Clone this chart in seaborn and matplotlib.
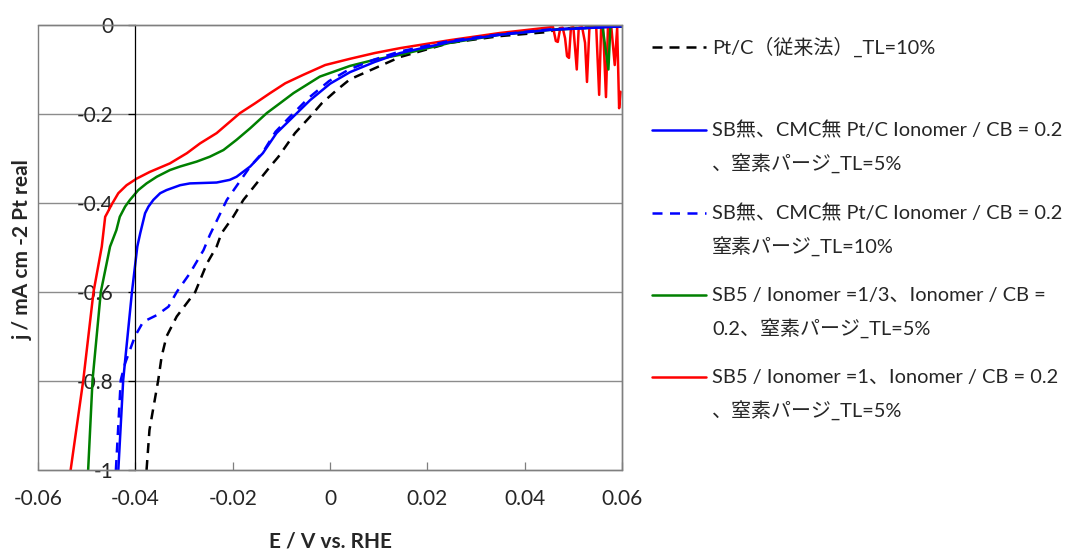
import matplotlib
matplotlib.use("Agg")
import matplotlib.pyplot as plt
from matplotlib.lines import Line2D
from matplotlib.patches import Rectangle
import numpy as np
import pandas as pd
import seaborn as sns

# Data (E in V vs RHE, j in mA cm-2 Pt real)
black_e = [-0.0377, -0.0371, -0.0353, -0.0346, -0.0336, -0.0315, -0.0277, -0.0253, -0.0233,
           -0.0223, -0.0199, -0.0178, -0.0151, -0.0123, -0.0106, -0.0072, -0.0041, -0.0017,
           0.0014, 0.0041, 0.0144, 0.0247, 0.0349, 0.0446, 0.0473, 0.0600]
black_j = [-1.0, -0.910, -0.798, -0.745, -0.700, -0.655, -0.600, -0.536, -0.498,
           -0.468, -0.431, -0.393, -0.356, -0.318, -0.296, -0.243, -0.206, -0.176,
           -0.146, -0.122, -0.072, -0.040, -0.025, -0.016, -0.008, -0.003]

blue_e = [-0.0435, -0.0425, -0.0407, -0.0396, -0.0390, -0.0380, -0.0373, -0.0363, -0.0349,
          -0.0336, -0.0308, -0.0288, -0.0233, -0.0206, -0.0192, -0.0164, -0.0138, -0.0110,
          -0.0082, -0.0041, 0.0000, 0.0041, 0.0092, 0.0144, 0.0247, 0.0349, 0.0452, 0.0600]
blue_j = [-1.0, -0.798, -0.600, -0.498, -0.468, -0.423, -0.408, -0.393, -0.378,
          -0.371, -0.360, -0.356, -0.354, -0.348, -0.341, -0.318, -0.288, -0.243,
          -0.213, -0.169, -0.132, -0.106, -0.083, -0.063, -0.038, -0.022, -0.011, -0.003]

blue_dash_e = [-0.0440, -0.0430, -0.0421, -0.0401, -0.0384, -0.0356, -0.0332, -0.0315,
               -0.0288, -0.0260, -0.0247, -0.0212, -0.0164, -0.0138, -0.0112, -0.0084,
               -0.0043, -0.0002, 0.0039, 0.0090, 0.0142, 0.0245, 0.0349, 0.0452, 0.0600]
blue_dash_j = [-1.0, -0.798, -0.760, -0.700, -0.667, -0.652, -0.633, -0.600,
               -0.558, -0.506, -0.472, -0.393, -0.318, -0.286, -0.240, -0.208,
               -0.163, -0.126, -0.100, -0.078, -0.060, -0.036, -0.021, -0.010, -0.003]

green_e = [-0.0497, -0.0488, -0.0471, -0.0452, -0.0439, -0.0432, -0.0421, -0.0411, -0.0394,
           -0.0377, -0.0356, -0.0329, -0.0308, -0.0274, -0.0247, -0.0219, -0.0192, -0.0164,
           -0.0130, -0.0103, -0.0075, -0.0021, 0.0041, 0.0092, 0.0144, 0.0247, 0.0349,
           0.0452, 0.0560, 0.0572, 0.0576, 0.0580, 0.0600]
green_j = [-1.0, -0.798, -0.600, -0.498, -0.461, -0.431, -0.408, -0.393, -0.371,
           -0.356, -0.341, -0.326, -0.318, -0.307, -0.296, -0.281, -0.258, -0.232,
           -0.198, -0.176, -0.153, -0.116, -0.092, -0.078, -0.067, -0.040, -0.022,
           -0.011, -0.005, -0.100, -0.005, -0.004, -0.004]

red_e = [-0.0533, -0.0507, -0.0486, -0.0469, -0.0462, -0.0458, -0.0449, -0.0435, -0.0418,
         -0.0397, -0.0370, -0.0329, -0.0294, -0.0267, -0.0233, -0.0185, -0.0154, -0.0123,
         -0.0092, -0.0055, -0.0010, 0.0041, 0.0092, 0.0144, 0.0247, 0.0349,
         0.0454, 0.0458, 0.0464, 0.0468, 0.0473, 0.0478, 0.0483, 0.0487, 0.0491, 0.0495,
         0.0500, 0.0507, 0.0511, 0.0518, 0.0524, 0.0528, 0.0533, 0.0540, 0.0547, 0.0553,
         0.0557, 0.0561, 0.0567, 0.0571, 0.0578, 0.0585, 0.0590, 0.0594, 0.0597]
red_j = [-1.0, -0.798, -0.600, -0.498, -0.431, -0.423, -0.404, -0.378, -0.360,
         -0.345, -0.330, -0.311, -0.288, -0.266, -0.243, -0.198, -0.176, -0.153,
         -0.131, -0.112, -0.090, -0.076, -0.063, -0.052, -0.034, -0.018,
         -0.005, -0.004, -0.036, -0.038, -0.007, -0.006, -0.030, -0.070, -0.074, -0.006,
         -0.005, -0.100, -0.006, -0.005, -0.040, -0.128, -0.006, -0.005, -0.006, -0.157,
         -0.006, -0.005, -0.162, -0.006, -0.005, -0.090, -0.006, -0.187, -0.150]

labels = [
    ["Pt/C（従来法）_TL=10%"],
    ["SB無、CMC無 Pt/C Ionomer / CB = 0.2", "、窒素パージ_TL=5%"],
    ["SB無、CMC無 Pt/C Ionomer / CB = 0.2", "窒素パージ_TL=10%"],
    ["SB5 / Ionomer =1/3、Ionomer / CB =", "0.2、窒素パージ_TL=5%"],
    ["SB5 / Ionomer =1、Ionomer / CB = 0.2", "、窒素パージ_TL=5%"],
]

sns.set_theme(style="white")
fonts = ["Lato", "Noto Sans CJK JP", "DejaVu Sans"]
plt.rcParams["font.family"] = fonts

fig = plt.figure(figsize=(10.71, 5.54), dpi=100)
ax = fig.add_axes([0.0355, 0.1516, 0.5453, 0.8033])

lw = 1.8
series = [
    (black_e, black_j, "black", (4, 2.8)),
    (red_e, red_j, "#FF0000", ""),
    (green_e, green_j, "#008000", ""),
    (blue_dash_e, blue_dash_j, "#0000FF", (4, 3)),
    (blue_e, blue_j, "#0000FF", ""),
]
for e, j, c, d in series:
    df = pd.DataFrame({"E": e, "j": j})
    sns.lineplot(data=df, x="E", y="j", ax=ax, color=c, lw=lw,
                 sort=False, estimator=None)
    if d:
        ax.lines[-1].set_dashes(d)

ax.set_xlim(-0.06, 0.06)
ax.set_ylim(-1, 0)
ax.set_xticks(np.arange(-0.06, 0.061, 0.02))
ax.set_xticklabels(["-0.06", "-0.04", "-0.02", "0", "0.02", "0.04", "0.06"])
ax.set_yticks([-1, -0.8, -0.6, -0.4, -0.2, 0])
ax.set_yticklabels(["-1", "-0.8", "-0.6", "-0.4", "-0.2", "0"])

for yv in [-0.2, -0.4, -0.6, -0.8]:
    ax.axhline(yv, color="#8c8c8c", lw=1.0, zorder=0.5)

ax.spines["left"].set_position(("data", -0.04))
ax.spines["left"].set_color("black")
ax.spines["left"].set_linewidth(0.9)
for s in ["top", "right", "bottom"]:
    ax.spines[s].set_color("#7f7f7f")
    ax.spines[s].set_linewidth(1.0)
ax.add_patch(Rectangle((0, 0), 1, 1, transform=ax.transAxes, fill=False,
                       edgecolor="#7f7f7f", lw=1.0, clip_on=False, zorder=3))

ax.tick_params(axis="y", direction="out", length=5, width=0.9, color="black",
               pad=11, labelsize=15, left=True)
ax.tick_params(axis="x", direction="in", length=6, width=0.9, color="#7f7f7f",
               pad=14, labelsize=15, bottom=True)

ax.set_xlabel("E / V vs. RHE", fontsize=15, fontweight="bold", labelpad=16)
ax.set_ylabel("")
fig.text(0.021, 0.549, "j / mA cm -2 Pt real", rotation=90, fontsize=15,
         fontweight="bold", ha="center", va="center")

# legend drawn by hand so the key sits on the first line of each entry
H = 554.0
W = 1071.0
first_y = [47, 130, 213, 295, 377]
line_gap = 34
styles = [("black", (4, 2.8)), ("#0000FF", ""), ("#0000FF", (4, 3)),
          ("#008000", ""), ("#FF0000", "")]
for (c, d), y0, lab in zip(styles, first_y, labels):
    yf = 1 - y0 / H
    ln = Line2D([652 / W, 706 / W], [yf, yf], transform=fig.transFigure,
                color=c, lw=lw)
    if d:
        ln.set_dashes(d)
    fig.add_artist(ln)
    for k, txt in enumerate(lab):
        fig.text(712 / W, 1 - (y0 + k * line_gap) / H, txt, fontsize=14.4,
                 ha="left", va="center")

fig.savefig("out.png", dpi=100)
